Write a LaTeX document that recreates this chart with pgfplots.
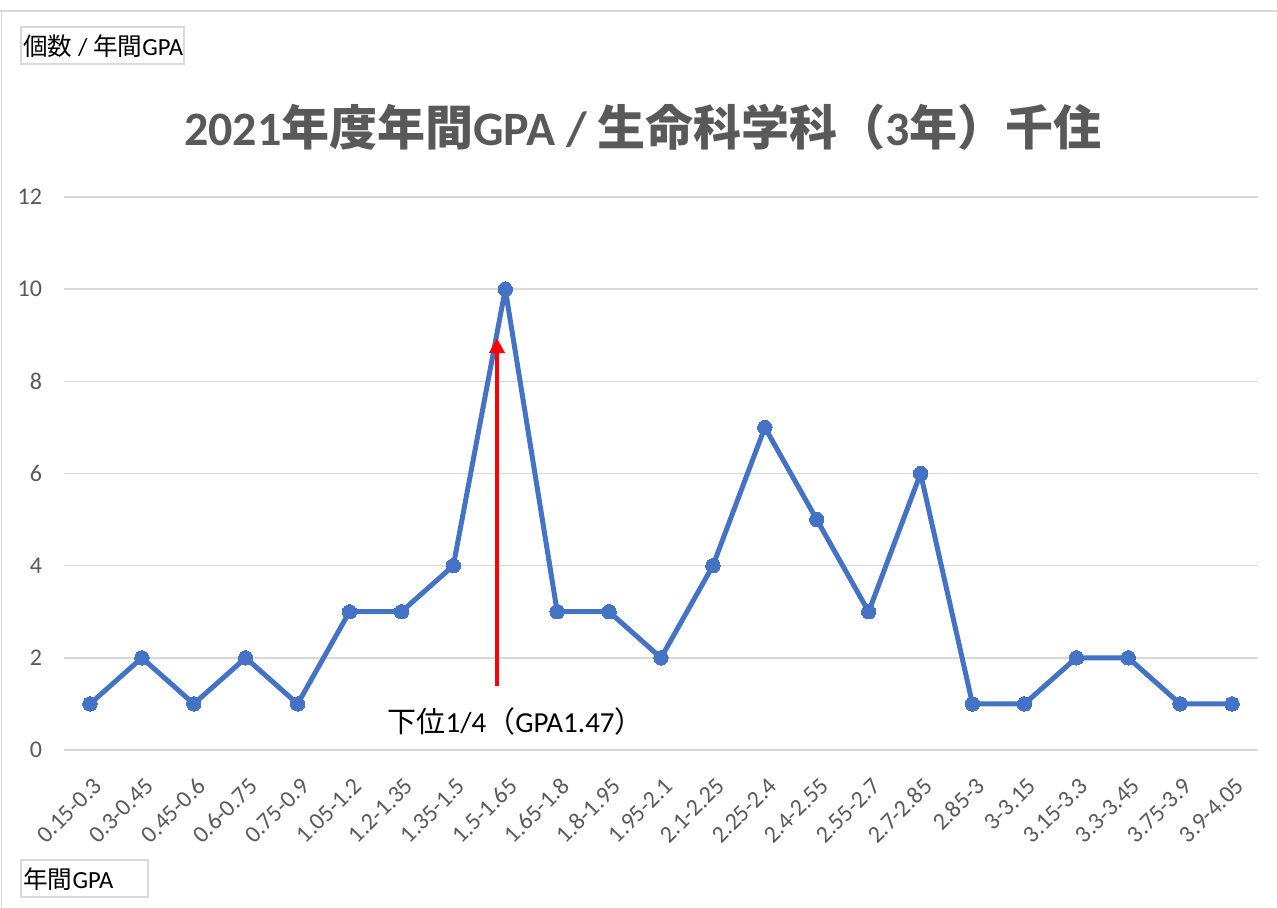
\documentclass[border=0pt]{standalone}
\usepackage{fontspec}
\setmainfont{Carlito}
\newfontfamily\cjk{Noto Sans CJK JP}
\usepackage{pgfplots}
\pgfplotsset{compat=1.18}
\usetikzlibrary{arrows.meta}
\definecolor{lineblue}{HTML}{4472C4}
\definecolor{txtgray}{HTML}{595959}
\definecolor{gridgray}{HTML}{D9D9D9}
\begin{document}
\begin{tikzpicture}
\path[use as bounding box] (0,0) rectangle (638.5pt,454pt);
% chart frame
\draw[gridgray, line width=0.75pt] (0,448.5pt) -- (638.5pt,448.5pt);
\draw[gridgray, line width=0.75pt] (0.75pt,448.5pt) -- (0.75pt,0);
% title
\node[text=txtgray, font=\fontsize{24}{29}\selectfont\bfseries] at (321.5pt,390.5pt)
  {2021{\cjk\bfseries 年度年間}GPA / {\cjk\bfseries 生命科学科（}3{\cjk\bfseries 年）千住}};
% boxes
\draw[gridgray, line width=0.75pt] (10.5pt,440.5pt) rectangle (92pt,422pt);
\node[anchor=west, inner sep=0pt, font=\fontsize{12.3}{14}\selectfont] at (11.5pt,431pt)
  {{\cjk 個数} / {\cjk 年間}GPA};
\draw[gridgray, line width=0.75pt] (10.5pt,24pt) rectangle (74pt,5.5pt);
\node[anchor=west, inner sep=0pt, font=\fontsize{12.3}{14}\selectfont] at (11.5pt,14.5pt)
  {{\cjk 年間}GPA};
\begin{axis}[
  at={(32pt,79pt)}, anchor=south west,
  scale only axis, width=597pt, height=276.5pt,
  xmin=-0.5, xmax=22.5, ymin=0, ymax=12,
  ytick={0,2,...,12},
  xtick={0,...,22},
  xticklabels={0.15-0.3,0.3-0.45,0.45-0.6,0.6-0.75,0.75-0.9,1.05-1.2,1.2-1.35,1.35-1.5,1.5-1.65,1.65-1.8,1.8-1.95,1.95-2.1,2.1-2.25,2.25-2.4,2.4-2.55,2.55-2.7,2.7-2.85,2.85-3,3-3.15,3.15-3.3,3.3-3.45,3.75-3.9,3.9-4.05},
  axis line style={draw=none},
  major tick length=0pt,
  ymajorgrids,
  grid style={gridgray, line width=0.75pt},
  x tick label style={xshift=4pt, yshift=-16pt, rotate=45, anchor=east, inner sep=0pt, font=\fontsize{12}{14}\selectfont, text=txtgray},
  y tick label style={font=\fontsize{12}{14}\selectfont, text=txtgray, xshift=-7.5pt},
  /pgf/number format/assume math mode=true,
  clip=false,
]
\addplot[lineblue, line width=2.5pt, line join=round, mark=*, mark size=3.6pt,
  mark options={fill=lineblue, draw=lineblue, line width=0pt}]
  coordinates {(0,1)(1,2)(2,1)(3,2)(4,1)(5,3)(6,3)(7,4)(8,10)(9,3)(10,3)(11,2)(12,4)(13,7)(14,5)(15,3)(16,6)(17,1)(18,1)(19,2)(20,2)(21,1)(22,1)};
\draw[red, line width=2pt, -{Triangle[width=7.5pt,length=7.5pt]}] (axis cs:7.84,1.39) -- (axis cs:7.84,8.94);
\node[font=\fontsize{14.5}{17}\selectfont] at (axis cs:8.2,0.61) {{\cjk 下位}1/4{\cjk （}GPA1.47{\cjk ）}};
\end{axis}
\end{tikzpicture}
\end{document}
